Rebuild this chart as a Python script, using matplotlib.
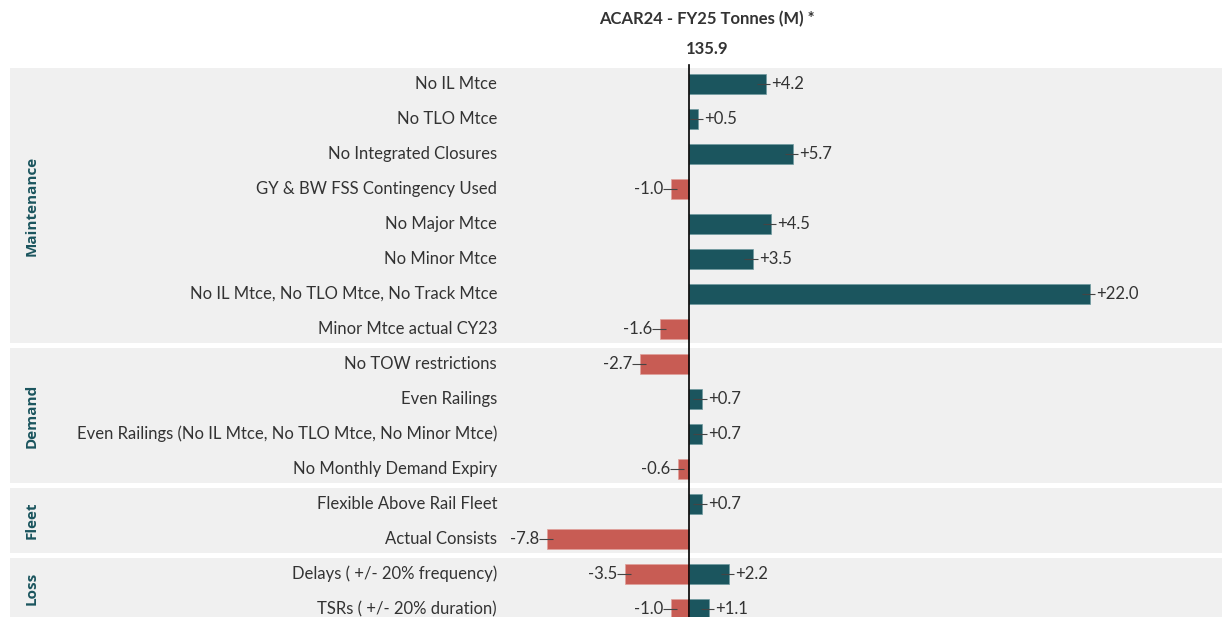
import numpy as np
from matplotlib import pyplot as plt
from matplotlib.patches import Rectangle

# scenario rows, top to bottom
labels = [
    "No IL Mtce",
    "No TLO Mtce",
    "No Integrated Closures",
    "GY & BW FSS Contingency Used",
    "No Major Mtce",
    "No Minor Mtce",
    "No IL Mtce, No TLO Mtce, No Track Mtce",
    "Minor Mtce actual CY23",
    "No TOW restrictions",
    "Even Railings",
    "Even Railings (No IL Mtce, No TLO Mtce, No Minor Mtce)",
    "No Monthly Demand Expiry",
    "Flexible Above Rail Fleet",
    "Actual Consists",
    "Delays ( +/- 20% frequency)",
    "TSRs ( +/- 20% duration)",
]
# upside / downside vs base (0 = none)
upside = [4.2, 0.5, 5.7, 0, 4.5, 3.5, 22.0, 0, 0, 0.7, 0.7, 0, 0.7, 0, 2.2, 1.1]
downside = [0, 0, 0, -1.0, 0, 0, 0, -1.6, -2.7, 0, 0, -0.6, 0, -7.8, -3.5, -1.0]

groups = ["Maintenance", "Demand", "Fleet", "Loss"]
group_rows = [(0, 7), (8, 11), (12, 13), (14, 15)]

base_value = 135.9
header = "ACAR24 - FY25 Tonnes (M) *"

teal = "#1b555e"
red = "#c85c54"
panel = "#f0f0f0"
txt = "#333333"

fig = plt.figure(figsize=(12.22, 6.17), dpi=100)
ax = fig.add_axes([0, 0, 1, 1])
ax.set_xlim(-37.8, 29.24)
ax.set_ylim(15.257, -2.371)
ax.axis("off")

ypos = np.arange(len(labels)) + 0.03

# grey group panels
for (r0, r1) in group_rows:
    top = r0 - 0.43
    bot = r1 + 0.43 if r1 < 15 else 16
    ax.add_patch(Rectangle((-37.25, top), 80, bot - top, color=panel, zorder=0, lw=0))

up = np.array(upside)
dn = np.array(downside)
m_up = up != 0
m_dn = dn != 0

ax.barh(ypos[m_up], up[m_up], height=0.55, color=teal, edgecolor="#6f9aa0", lw=0.5, zorder=2)
ax.barh(ypos[m_dn], dn[m_dn], height=0.55, color=red, edgecolor="#e0a09a", lw=0.5, zorder=2)

# small whiskers at bar ends
ax.errorbar(up[m_up] - 0.1, ypos[m_up], xerr=0.36, fmt="none", ecolor="#444444", elinewidth=0.8, zorder=3)
ax.errorbar(dn[m_dn] - 0.05, ypos[m_dn], xerr=0.38, fmt="none", ecolor="#444444", elinewidth=0.8, zorder=3)

for y, v in zip(ypos[m_up], up[m_up]):
    ax.text(v + 0.33, y, "+%.1f" % v, ha="left", va="center", fontsize=12, family="Lato", color=txt, zorder=4)
for y, v in zip(ypos[m_dn], dn[m_dn]):
    ax.text(v - 0.42, y, "%.1f" % v, ha="right", va="center", fontsize=12, family="Lato", color=txt, zorder=4)

# zero line
ax.plot([0, 0], [-0.52, 16], color="black", lw=1.2, zorder=5)

# category labels
for y, lab in zip(ypos, labels):
    ax.text(-10.53, y, lab, ha="right", va="center", fontsize=12, family="Lato", color=txt)

# group names
for g, (r0, r1) in zip(groups, group_rows):
    yc = (r0 + r1) / 2 if r1 < 15 else 14.45
    ax.text(-36.04, yc, g, rotation=90, ha="center", va="center", fontsize=11,
            family="Open Sans", fontweight="bold", color=teal)

# header
ax.text(0.98, -1.82, header, ha="center", va="center", fontsize=12, family="Lato", fontweight="bold", color=txt)
ax.text(0.98, -0.98, "%.1f" % base_value, ha="center", va="center", fontsize=12, family="Lato", fontweight="bold", color=txt)

plt.savefig("out.png", dpi=100)
